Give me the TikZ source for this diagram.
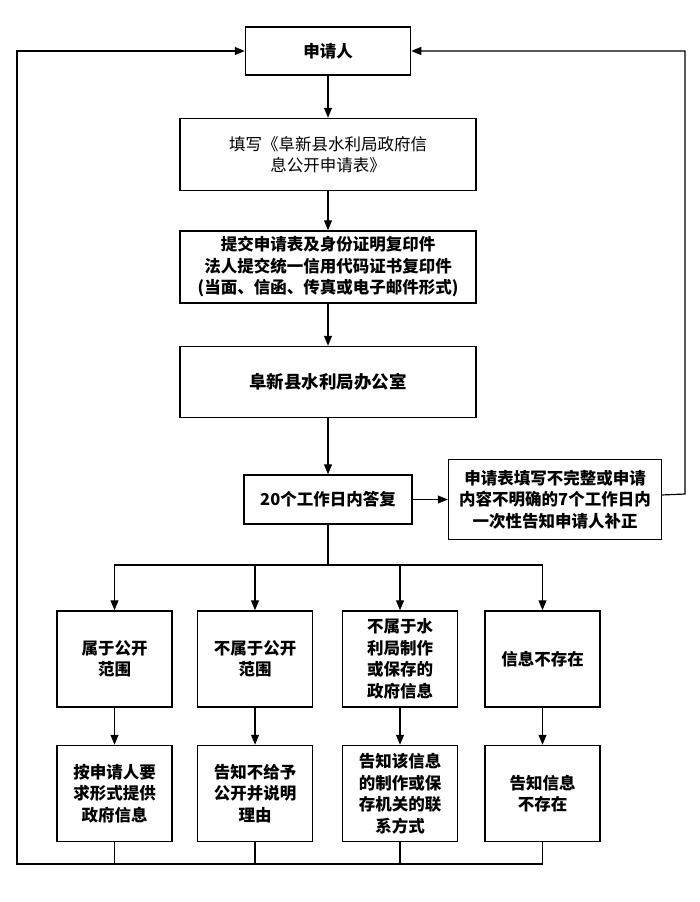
\documentclass[tikz,border=0pt]{standalone}
\usepackage{fontspec}
\setmainfont{Noto Sans CJK SC}
\usetikzlibrary{positioning, arrows.meta, calc}

\begin{document}
\begin{tikzpicture}[
   x=1pt, y=1pt,
   every node/.style   = {font=\fontsize{16.5}{21.5}\selectfont},
   node distance       = 40pt and 35pt,
      stageNode/.style = {rectangle, draw, align=center, line width=1.5pt, inner sep=2pt},
      caseNode/.style  = {stageNode, minimum width=115pt, minimum height=96pt},
      myline/.style    = {line width=1.2pt},
      myarrow/.style   = {myline, -{Triangle[length=10pt,width=8pt]}}
]
    \useasboundingbox (0,0) rectangle (700,-902);

    % main column
    \node[stageNode, minimum width=165pt, minimum height=48pt, font=\fontsize{16.5}{21.5}\selectfont\bfseries] (applicant) at (328,-51) {申请人};
    \node[stageNode, below=42pt of applicant, minimum width=296pt, minimum height=72pt] (form) {填写《阜新县水利局政府信\\息公开申请表》};
    \node[stageNode, below=39pt of form, minimum width=296pt, minimum height=72pt, font=\fontsize{16.5}{21.5}\selectfont\bfseries] (submit) {提交申请表及身份证明复印件\\法人提交统一信用代码证书复印件\\(当面、信函、传真或电子邮件形式)};
    \node[stageNode, below=42pt of submit, minimum width=296pt, minimum height=71pt, font=\fontsize{17.5}{21.5}\selectfont\bfseries] (office) {阜新县水利局办公室};
    \node[stageNode, below=56pt of office, minimum width=168pt, minimum height=49pt, font=\fontsize{16.5}{21.5}\selectfont\bfseries] (reply) {20个工作日内答复};
    \node[stageNode, right=35pt of reply, minimum width=213pt, minimum height=80pt, font=\fontsize{16.5}{21.5}\selectfont\bfseries] (correct) {申请表填写不完整或申请\\内容不明确的7个工作日内\\一次性告知申请人补正};

    \draw[myarrow] (applicant) -- (form);
    \draw[myarrow] (form) -- (submit);
    \draw[myarrow] (submit) -- (office);
    \draw[myarrow] (office) -- (reply);
    \draw[myarrow] (reply) -- (correct);

    % four cases
    \node[caseNode, font=\fontsize{16.5}{21.5}\selectfont\bfseries] (open)    at (114.5,-659) {属于公开\\范围};
    \node[caseNode, font=\fontsize{16.5}{21.5}\selectfont\bfseries] (closed)  at (255,-659)   {不属于公开\\范围};
    \node[caseNode, font=\fontsize{16.5}{21.5}\selectfont\bfseries] (other)   at (400,-659)   {不属于水\\利局制作\\或保存的\\政府信息};
    \node[caseNode, font=\fontsize{16.5}{21.5}\selectfont\bfseries] (missing) at (542.5,-659) {信息不存在};

    \node[caseNode, below=37pt of open, font=\fontsize{16.5}{21.5}\selectfont\bfseries]    (provide) {按申请人要\\求形式提供\\政府信息};
    \node[caseNode, below=37pt of closed, font=\fontsize{16.5}{21.5}\selectfont\bfseries]  (refuse)  {告知不给予\\公开并说明\\理由};
    \node[caseNode, below=37pt of other, font=\fontsize{16.5}{21.5}\selectfont\bfseries]   (contact) {告知该信息\\的制作或保\\存机关的联\\系方式};
    \node[caseNode, below=37pt of missing, font=\fontsize{16.5}{21.5}\selectfont\bfseries] (nothing) {告知信息\\不存在};

    \coordinate (split) at (328,-565);
    \draw[myline] (reply) -- (split);
    \draw[myarrow] (split) -| (open);
    \draw[myarrow] (split) -| (closed);
    \draw[myarrow] (split) -| (other);
    \draw[myarrow] (split) -| (missing);

    \draw[myarrow] (open) -- (provide);
    \draw[myarrow] (closed) -- (refuse);
    \draw[myarrow] (other) -- (contact);
    \draw[myarrow] (missing) -- (nothing);

    % feedback to the applicant
    \coordinate (leftcorner) at (17,-864);
    \coordinate (rightcorner) at (685,-494);
    \draw[myarrow] (nothing) |- (leftcorner) |- (applicant.west);
    \draw[myline] (provide) -- (provide |- leftcorner);
    \draw[myline] (refuse) -- (refuse |- leftcorner);
    \draw[myline] (contact) -- (contact |- leftcorner);
    \draw[myarrow] (correct) -- (rightcorner) |- (applicant.east);
\end{tikzpicture}
\end{document}
